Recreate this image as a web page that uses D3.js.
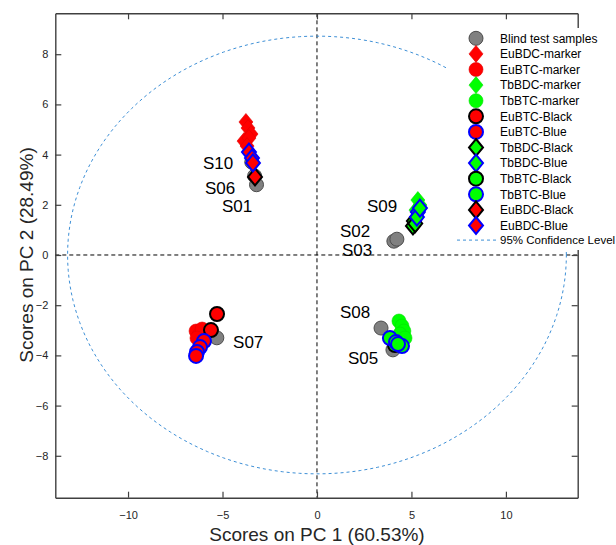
<!DOCTYPE html>
<html>
<head>
<meta charset="utf-8">
<script src="https://cdn.jsdelivr.net/npm/d3@7"></script>
<style>
  body { margin: 0; background: #fff; }
  svg { display: block; font-family: "Liberation Sans", Arial, sans-serif; }
</style>
</head>
<body>
<svg id="chart"></svg>
<script>
// data (PC1, PC2 scores)
const blindX = [-3.45, -3.3, -3.2, 4.07, 4.23, -5.3, 3.39, 4.02]
const blindY = [3.7, 3.15, 2.8, 0.55, 0.63, -3.3, -2.91, -3.78]

const euBDCMarkerX = [-3.76, -3.65, -3.49, -3.86, -3.6, -3.7]
const euBDCMarkerY = [5.3, 5.06, 4.82, 4.54, 4.66, 4.34]
const euBTCMarkerX = [-6.4, -6.24, -6.08, -6.35]
const euBTCMarkerY = [-3.03, -3.19, -2.95, -3.31]
const tbBDCMarkerX = [5.34, 5.45, 5.24]
const tbBDCMarkerY = [2.19, 1.99, 1.79]
const tbBTCMarkerX = [4.34, 4.5, 4.6, 4.39, 4.66]
const tbBTCMarkerY = [-2.63, -2.83, -3.03, -3.15, -3.31]

const euBTCBlackX = [-5.29, -5.61]
const euBTCBlackY = [-2.35, -2.99]
const euBTCBlueX = [-5.98, -6.19, -6.35, -6.4]
const euBTCBlueY = [-3.43, -3.67, -3.86, -4.02]
const tbBDCBlackX = [5.08, 5.13, 5.2]
const tbBDCBlackY = [1.16, 1.35, 1.25]
const tbBDCBlueX = [5.34, 5.29, 5.45]
const tbBDCBlueY = [1.71, 1.51, 1.87]
const tbBTCBlackX = [4.13]
const tbBTCBlackY = [-3.59]
const tbBTCBlueX = [3.86, 4.18, 4.5, 4.29]
const tbBTCBlueY = [-3.31, -3.47, -3.63, -3.55]
const euBDCBlackX = [-3.28]
const euBDCBlackY = [3.11]
const euBDCBlueX = [-3.6, -3.44, -3.39]
const euBDCBlueY = [4.1, 3.86, 3.67]

const sampleLabels = ["S10", "S06", "S01", "S09", "S02", "S03", "S07", "S08", "S05"]
const labelX = [-6.03, -5.93, -5.03, 2.65, 1.22, 1.32, -4.44, 1.22, 1.64]
const labelY = [3.43, 2.43, 1.71, 1.71, 0.72, -0.04, -3.71, -2.51, -4.34]

const xTicks = [-10, -5, 0, 5, 10]
const yTicks = [-8, -6, -4, -2, 0, 2, 4, 6, 8]

// 95% confidence ellipse semi axes
const ellipseRx = 13.2
const ellipseRy = 8.72

//set up svg container
const width = 616
const height = 545
const margin = { left: 55.3, right: 577.7, top: 13.3, bottom: 497.7 }

const svg = d3.select('#chart')
              .attr('width', width)
              .attr('height', height)

//setting the scales
const xScale = d3.scaleLinear()
                 .domain([-13.85, 13.8])
                 .range([margin.left, margin.right])

const yScale = d3.scaleLinear()
                 .domain([-9.67, 9.63])
                 .range([margin.bottom, margin.top])

// zero lines
svg.append('line')
   .attr('x1', xScale(0)).attr('x2', xScale(0))
   .attr('y1', margin.top).attr('y2', margin.bottom)
   .attr('stroke', '#000').attr('stroke-width', 1)
   .attr('stroke-dasharray', '4,3')

svg.append('line')
   .attr('x1', margin.left).attr('x2', margin.right)
   .attr('y1', yScale(0)).attr('y2', yScale(0))
   .attr('stroke', '#000').attr('stroke-width', 1)
   .attr('stroke-dasharray', '4,3')

// confidence ellipse
const angles = d3.range(0, 361, 2).map(a => a * Math.PI / 180)
const ellipseLine = d3.line()
                      .x(a => xScale(ellipseRx * Math.cos(a)))
                      .y(a => yScale(ellipseRy * Math.sin(a)))

svg.append('path')
   .attr('d', ellipseLine(angles))
   .attr('fill', 'none')
   .attr('stroke', '#3d8fd6')
   .attr('stroke-width', 1)
   .attr('stroke-dasharray', '3,3')

// marker shapes
const diamond = {
  draw(ctx, size) {
    const w = 7, h = 8.5
    ctx.moveTo(0, -h)
    ctx.lineTo(w, 0)
    ctx.lineTo(0, h)
    ctx.lineTo(-w, 0)
    ctx.closePath()
  }
}
const circlePath = d3.symbol().type(d3.symbolCircle).size(Math.PI * 7 * 7)()
const diamondPath = d3.symbol().type(diamond)()

const series = [
  { name: 'Blind test samples', xs: blindX, ys: blindY, shape: 'o', fill: '#808080', stroke: '#4d4d4d', sw: 1 },
  { name: 'EuBDC-marker', xs: euBDCMarkerX, ys: euBDCMarkerY, shape: 'd', fill: '#ff0000', stroke: '#e00000', sw: 0.6 },
  { name: 'EuBTC-marker', xs: euBTCMarkerX, ys: euBTCMarkerY, shape: 'o', fill: '#ff0000', stroke: '#e00000', sw: 0.6 },
  { name: 'TbBDC-marker', xs: tbBDCMarkerX, ys: tbBDCMarkerY, shape: 'd', fill: '#00ff00', stroke: '#00e000', sw: 0.6 },
  { name: 'TbBTC-marker', xs: tbBTCMarkerX, ys: tbBTCMarkerY, shape: 'o', fill: '#00ff00', stroke: '#00e000', sw: 0.6 },
  { name: 'EuBTC-Black', xs: euBTCBlackX, ys: euBTCBlackY, shape: 'o', fill: '#ff0000', stroke: '#000', sw: 2 },
  { name: 'EuBTC-Blue', xs: euBTCBlueX, ys: euBTCBlueY, shape: 'o', fill: '#ff0000', stroke: '#0000ff', sw: 2 },
  { name: 'TbBDC-Black', xs: tbBDCBlackX, ys: tbBDCBlackY, shape: 'd', fill: '#00ff00', stroke: '#000', sw: 2 },
  { name: 'TbBDC-Blue', xs: tbBDCBlueX, ys: tbBDCBlueY, shape: 'd', fill: '#00ff00', stroke: '#0000ff', sw: 2 },
  { name: 'TbBTC-Black', xs: tbBTCBlackX, ys: tbBTCBlackY, shape: 'o', fill: '#00ff00', stroke: '#000', sw: 2 },
  { name: 'TbBTC-Blue', xs: tbBTCBlueX, ys: tbBTCBlueY, shape: 'o', fill: '#00ff00', stroke: '#0000ff', sw: 2 },
  { name: 'EuBDC-Black', xs: euBDCBlackX, ys: euBDCBlackY, shape: 'd', fill: '#ff0000', stroke: '#000', sw: 2 },
  { name: 'EuBDC-Blue', xs: euBDCBlueX, ys: euBDCBlueY, shape: 'd', fill: '#ff0000', stroke: '#0000ff', sw: 2 }
]

//setting the points
series.forEach(s => {
  svg.append('g')
     .selectAll('path')
     .data(s.xs.map((x, i) => [x, s.ys[i]]))
     .join('path')
     .attr('d', s.shape === 'o' ? circlePath : diamondPath)
     .attr('transform', d => `translate(${xScale(d[0])},${yScale(d[1])})`)
     .attr('fill', s.fill)
     .attr('stroke', s.stroke)
     .attr('stroke-width', s.sw)
})

// sample labels
svg.append('g')
   .selectAll('text')
   .data(sampleLabels)
   .join('text')
   .attr('x', (d, i) => xScale(labelX[i]))
   .attr('y', (d, i) => yScale(labelY[i]))
   .attr('font-size', 17)
   .attr('fill', '#000')
   .text(d => d)

//setting the axes (box with inside ticks)
const axisColor = '#262626'
const xAxis = d3.axisBottom(xScale).tickValues(xTicks).tickSizeInner(-6).tickSizeOuter(0).tickPadding(14)
const yAxis = d3.axisLeft(yScale).tickValues(yTicks).tickSizeInner(-6).tickSizeOuter(0).tickPadding(7)

const gx = svg.append('g').attr('transform', `translate(0, ${margin.bottom})`).call(xAxis)
const gy = svg.append('g').attr('transform', `translate(${margin.left}, 0)`).call(yAxis)
const gxTop = svg.append('g').attr('transform', `translate(0, ${margin.top})`)
                 .call(d3.axisTop(xScale).tickValues(xTicks).tickSizeInner(-6).tickSizeOuter(0).tickFormat(''))
const gyRight = svg.append('g').attr('transform', `translate(${margin.right}, 0)`)
                   .call(d3.axisRight(yScale).tickValues(yTicks).tickSizeInner(-6).tickSizeOuter(0).tickFormat(''))

;[gx, gy, gxTop, gyRight].forEach(g => {
  g.select('.domain').attr('stroke', '#404040').attr('stroke-width', 1.4)
  g.selectAll('.tick line').attr('stroke', '#404040').attr('stroke-width', 1.2)
  g.selectAll('.tick text').attr('fill', axisColor).attr('font-size', 11)
   .attr('font-family', '"Liberation Sans", Arial, sans-serif')
})

// axis titles
svg.append('text')
   .attr('x', xScale(0))
   .attr('y', 541)
   .attr('text-anchor', 'middle')
   .attr('font-size', 19)
   .attr('fill', axisColor)
   .text('Scores on PC 1 (60.53%)')

svg.append('text')
   .attr('transform', `translate(33, ${yScale(0)}) rotate(-90)`)
   .attr('text-anchor', 'middle')
   .attr('font-size', 19)
   .attr('fill', axisColor)
   .text('Scores on PC 2 (28.49%)')

// legend
const legend = svg.append('g')
legend.append('rect')
      .attr('x', 446).attr('y', 28)
      .attr('width', 170).attr('height', 222)
      .attr('fill', '#fff')

const rowY = i => 38.3 + i * 15.6
series.forEach((s, i) => {
  legend.append('path')
        .attr('d', s.shape === 'o' ? circlePath : diamondPath)
        .attr('transform', `translate(476, ${rowY(i)})`)
        .attr('fill', s.fill)
        .attr('stroke', s.stroke)
        .attr('stroke-width', s.sw)
  legend.append('text')
        .attr('x', 500).attr('y', rowY(i) + 4.3)
        .attr('font-size', 12)
        .attr('fill', '#000')
        .text(s.name)
})
const ciY = rowY(series.length) - 1
legend.append('line')
      .attr('x1', 457).attr('x2', 497)
      .attr('y1', ciY).attr('y2', ciY)
      .attr('stroke', '#3d8fd6')
      .attr('stroke-dasharray', '3,3')
legend.append('text')
      .attr('x', 500).attr('y', ciY + 4)
      .attr('font-size', 11.5)
      .attr('fill', '#000')
      .text('95% Confidence Level')
</script>
</body>
</html>
